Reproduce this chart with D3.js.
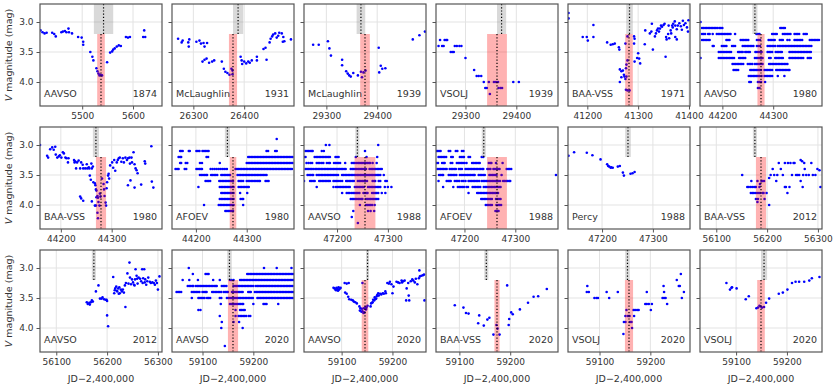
<!DOCTYPE html>
<html>
<head>
<meta charset="utf-8">
<script src="https://cdn.jsdelivr.net/npm/d3@7"></script>
<style>
  body { margin: 0; background: #fff; }
  svg text { font-family: "DejaVu Sans", sans-serif; }
</style>
</head>
<body>
<div id="chart"></div>
<script>
// panel labels, row-major (3 rows x 6 columns)
var sources = ["AAVSO", "McLaughlin", "McLaughlin", "VSOLJ", "BAA-VSS", "AAVSO",
               "BAA-VSS", "AFOEV", "AAVSO", "AFOEV", "Percy", "BAA-VSS",
               "AAVSO", "AAVSO", "AAVSO", "BAA-VSS", "VSOLJ", "VSOLJ"];
var years = ["1874", "1931", "1939", "1939", "1971", "1980",
             "1980", "1980", "1988", "1988", "1988", "2012",
             "2012", "2020", "2020", "2020", "2020", "2020"];
// centre of each x window (JD-2,400,000), window is +-120 d
var axisCentre = [5537, 26378, 29376, 29362, 41282, 44276,
                  44279, 44273, 47255, 47264, 47253, 56188,
                  56188, 59160, 59146, 59174, 59158, 59149];
// predicted mid-eclipse (grey) and its half width in days
var predicted = [5542, 26388, 29368, 29371, 41283, 44264,
                 44269, 44262, 47240, 47238, 47251, 56176,
                 56174, 59153, 59151, 59153, 59155, 59155];
var predictedHalf = [19, 10, 8.5, 9, 6.5, 5,
                     6, 5, 4, 4, 5.5, 4,
                     4, 4.5, 3, 4, 4.5, 6];
// observed minimum (red) and its half width in days
var minimum = [5537, 26378, 29376, 29362, 41282, 44276,
               44279, 44273, 47255, 47264, null, 56188,
               null, 59160, 59146, 59174, 59158, 59149];
var minimumHalf = [7.5, 8, 9.5, 19.5, 7.5, 7,
                   10, 6.5, 20.5, 19.5, 0, 10,
                   0, 10, 6.5, 5, 8, 7.5];
var yTicks = [3.0, 3.5, 4.0];

// light curves: [JD-2,400,000, V mag]
var aavso1874 = [[5418,3.14],[5422,3.17],[5426,3.19],[5430,3.18],[5441,3.18],[5445,3.2],[5448,3.24],[5459,3.17],[5462,3.16],[5466,3.15],[5469,3.17],[5473,3.11],[5474,3.17],[5480,3.19],[5492,3.25],[5499,3.26],[5502,3.33],[5502,3.38],[5516,3.5],[5520,3.58],[5522,3.64],[5528,3.77],[5530,3.82],[5532,3.86],[5534,3.89],[5536,3.88],[5539,3.89],[5549,3.67],[5555,3.51],[5559,3.49],[5561,3.46],[5564,3.44],[5568,3.41],[5572,3.39],[5576,3.4],[5586,3.25],[5590,3.26],[5594,3.25],[5620,3.25],[5624,3.25],[5622,3.14]];

var mclaughlin1931 = [[26270,3.28],[26277,3.34],[26279,3.31],[26290,3.34],[26292,3.29],[26291,3.41],[26306,3.33],[26312,3.31],[26315,3.36],[26320,3.35],[26322,3.41],[26327,3.35],[26318,3.66],[26322,3.63],[26326,3.61],[26331,3.68],[26337,3.66],[26341,3.64],[26356,3.66],[26360,3.78],[26363,3.83],[26367,3.85],[26371,3.88],[26375,3.78],[26377,3.81],[26377,3.87],[26393,3.58],[26395,3.64],[26396,3.7],[26400,3.66],[26404,3.69],[26408,3.66],[26411,3.68],[26415,3.64],[26425,3.58],[26425,3.64],[26438,3.45],[26442,3.43],[26444,3.63],[26450,3.34],[26452,3.28],[26455,3.24],[26457,3.21],[26461,3.19],[26464,3.26],[26467,3.23],[26469,3.18],[26474,3.19],[26477,3.25],[26476,3.33],[26479,3.32],[26492,3.29]];

var mclaughlin1939 = [[29274,3.38],[29285,3.38],[29303,3.32],[29306,3.44],[29309,3.56],[29331,3.63],[29331,3.72],[29339,3.82],[29342,3.86],[29345,3.89],[29348,3.91],[29353,3.85],[29362,3.89],[29368,3.83],[29370,3.92],[29373,3.84],[29377,3.81],[29403,3.43],[29404,3.84],[29407,3.73],[29410,3.78],[29416,3.77],[29470,3.29],[29483,3.22],[29494,3.16]];

var vsolj1939 = [[29247,3.4],[29250,3.3],[29254,3.4],[29257,3.4],[29259,3.3],[29262,3.3],[29264,3.3],[29271,3.5],[29274,3.5],[29277,3.5],[29279,3.4],[29283,3.4],[29288,3.4],[29292,3.4],[29300,3.6],[29317,3.8],[29322,3.9],[29326,3.9],[29331,3.9],[29336,4.0],[29339,4.1],[29342,4.1],[29346,4.0],[29348,4.2],[29356,4.0],[29360,4.0],[29364,4.0],[29365,4.1],[29369,4.1],[29372,4.1],[29394,4.0],[29405,4.0]];

var baavss1971 = [[41163,2.85],[41163,2.94],[41191,3.25],[41199,3.25],[41201,3.31],[41212,3.25],[41212,3.05],[41239,3.34],[41246,3.38],[41250,3.37],[41254,3.36],[41262,3.42],[41263,3.46],[41264,3.79],[41267,3.82],[41270,3.81],[41264,4.0],[41267,3.92],[41272,3.88],[41273,3.91],[41275,3.95],[41276,3.77],[41277,3.71],[41279,3.64],[41277,3.91],[41276,4.13],[41279,4.14],[41283,4.14],[41275,3.36],[41279,3.24],[41292,3.24],[41293,3.28],[41292,3.36],[41293,3.66],[41298,3.6],[41300,3.52],[41302,3.61],[41304,3.69],[41313,3.37],[41314,3.14],[41326,3.16],[41329,3.46],[41323,3.19],[41327,3.03],[41333,3.24],[41335,3.19],[41337,3.14],[41339,3.11],[41341,3.16],[41343,3.11],[41345,3.06],[41347,3.08],[41350,3.05],[41352,3.03],[41355,3.25],[41356,3.29],[41359,3.2],[41360,3.06],[41361,3.27],[41364,3.14],[41365,3.19],[41367,3.06],[41368,3.09],[41369,3.03],[41372,2.99],[41373,3.06],[41376,3.12],[41373,3.25],[41376,3.29],[41354,3.58],[41378,3.06],[41381,3.02],[41384,3.07],[41386,3.13],[41388,2.98],[41390,3.05],[41393,3.02],[41396,3.09],[41398,3.16],[41399,2.97]];

// visual estimates reported in 0.1 mag steps: [mag, [JD...]]
var aavso1980 = [
  [3.0, [44157]],
  [3.1, [44160,44163,44166,44169,44172,44175,44178,44181,44184,44187,44190,44194,44197,44200,44314,44317,44320,44323]],
  [3.2, [44160,44163,44166,44172,44175,44181,44189,44192,44195,44198,44201,44204,44207,44210,44213,44216,44225,44267,44270,44273,44298,44301,44304,44307,44319,44322,44325,44328,44331,44334,44342,44345,44348,44351,44360,44363,44366]],
  [3.3, [44160,44163,44166,44169,44172,44175,44208,44211,44214,44236,44239,44242,44245,44248,44251,44268,44271,44274,44291,44294,44297,44300,44303,44313,44316,44319,44328,44332,44342,44345,44348,44351,44354,44357,44372,44375,44378,44381,44384,44387,44390]],
  [3.4, [44181,44183,44199,44202,44205,44208,44219,44222,44225,44240,44243,44246,44249,44252,44255,44258,44261,44268,44271,44274,44289,44292,44295,44298,44301,44304,44309,44312,44315,44318,44321,44324,44327,44330,44333,44336,44339,44342,44345,44348,44351,44354,44357,44360,44363,44366,44369,44372,44375]],
  [3.5, [44193,44196,44199,44202,44205,44208,44211,44214,44217,44231,44234,44237,44240,44245,44248,44251,44254,44265,44268,44271,44274,44277,44289,44292,44295,44298,44305,44308,44311,44314,44317,44332,44335,44338,44341,44344,44347,44350,44353,44356,44359,44362,44365,44368,44371,44374]],
  [3.6, [44157,44193,44196,44199,44202,44205,44208,44211,44214,44217,44220,44223,44233,44236,44239,44242,44245,44264,44267,44270,44273,44276,44279,44292,44295,44304,44307,44310,44313,44316,44319,44332,44335,44338,44341,44344,44347,44350,44353,44356,44359,44368,44371,44374]],
  [3.7, [44220,44223,44226,44229,44232,44235,44238,44241,44250,44253,44256,44259,44264,44267,44270,44273,44276,44279,44292,44295,44298,44301,44304,44307,44310,44313,44316,44319,44322,44325,44328]],
  [3.8, [44222,44225,44228,44231,44255,44258,44261,44264,44267,44270,44273,44276,44283,44286,44289,44292,44295,44298,44306,44309,44312,44315,44318,44321,44324,44327,44330,44332]],
  [3.9, [44252,44255,44258,44261,44264,44267,44270,44273,44277,44283,44286,44289,44292,44295,44298,44309,44322]],
  [4.0, [44253,44256,44270,44273,44276,44284]],
  [4.1, [44270,44273]]
];

var baavss1980 = [[44159,3.0],[44173,3.18],[44175,3.21],[44179,3.07],[44183,3.04],[44186,3.08],[44189,3.03],[44190,3.16],[44193,3.21],[44196,3.19],[44198,3.17],[44201,3.21],[44204,3.12],[44206,3.14],[44209,3.21],[44211,3.22],[44214,3.29],[44215,3.22],[44226,3.25],[44227,3.29],[44228,3.27],[44230,3.39],[44232,3.29],[44235,3.26],[44238,3.39],[44240,3.29],[44243,3.33],[44244,3.39],[44248,3.39],[44251,3.32],[44252,3.39],[44255,3.37],[44256,3.39],[44260,3.31],[44261,3.39],[44257,3.51],[44259,3.58],[44263,3.36],[44238,3.86],[44240,3.89],[44244,3.93],[44261,3.94],[44264,3.62],[44267,3.64],[44268,3.67],[44269,3.74],[44270,3.76],[44272,3.85],[44273,3.88],[44274,3.95],[44276,4.01],[44272,4.13],[44273,4.22],[44277,3.81],[44278,3.86],[44267,4.01],[44269,4.01],[44270,3.87],[44281,3.56],[44284,3.65],[44285,3.74],[44286,3.85],[44288,3.96],[44289,4.01],[44290,3.72],[44291,3.62],[44293,3.51],[44294,3.48],[44295,3.56],[44297,3.34],[44301,3.29],[44303,3.38],[44305,3.25],[44307,3.43],[44310,3.29],[44312,3.25],[44314,3.22],[44316,3.21],[44319,3.28],[44322,3.22],[44324,3.29],[44327,3.21],[44330,3.25],[44332,3.22],[44335,3.21],[44336,3.31],[44339,3.21],[44340,3.29],[44343,3.12],[44345,3.32],[44347,3.39],[44349,3.42],[44351,3.47],[44332,3.67],[44337,3.59],[44345,3.71],[44358,3.66],[44365,3.27],[44366,3.31],[44378,3.02],[44379,3.61],[44382,3.71]];

var afoev1980 = [
  [2.9, [44359]],
  [3.1, [44169,44171,44174,44186,44188,44201,44204,44207,44213,44216,44219,44222,44225,44339,44342,44356,44359]],
  [3.2, [44166,44169,44171,44221,44224,44303,44306,44309,44312,44315,44318,44321,44324,44327,44330,44333,44336,44339,44342,44345,44348,44351,44354,44357,44360,44363,44366,44369,44372,44375,44378,44381,44384,44387,44390]],
  [3.3, [44169,44171,44180,44183,44208,44212,44247,44300,44303,44306,44309,44312,44315,44318,44321,44324,44327,44330,44333,44336,44339,44342,44345,44348,44351,44354,44357,44360,44363,44366,44369,44372,44375,44378,44381,44384,44387,44390]],
  [3.4, [44160,44163,44166,44178,44181,44201,44204,44207,44210,44212,44229,44233,44237,44241,44245,44249,44253,44257,44261,44278,44281,44284,44287,44290,44293,44296,44299,44302,44305,44308,44311,44314,44317,44320,44323,44326,44329,44332,44335,44338,44341,44344,44347,44350,44353,44356,44359,44362,44365,44368,44371,44374,44377,44380,44383,44386,44389]],
  [3.5, [44208,44211,44214,44217,44220,44222,44230,44233,44236,44239,44242,44250,44253,44256,44259,44262,44265,44267,44282,44285,44288,44291,44294,44297,44300,44303,44306,44309,44312,44315,44318,44321,44324,44327,44330,44333,44336,44339]],
  [3.6, [44219,44222,44225,44228,44246,44249,44252,44255,44258,44261,44264,44267,44270,44273,44284,44287,44290,44293,44300,44303,44306,44309,44312,44315,44318,44321,44324,44326,44337,44340,44343]],
  [3.7, [44205,44247,44250,44253,44256,44259,44262,44265,44268,44271,44274,44284,44287,44290,44293,44296,44299,44302,44304]],
  [3.8, [44250,44253,44256,44259,44262,44265,44268,44271,44274,44287,44301]],
  [3.9, [44247,44250,44253,44256,44259,44262,44265,44268,44271,44274,44288,44291,44293]],
  [4.0, [44216,44245,44248,44251,44254,44257,44260,44263,44266,44269,44272,44274,44293]],
  [4.1, [44258,44261,44264,44267,44270,44273]]
];

var aavso1988 = [
  [3.0, [47178,47185,47281]],
  [3.1, [47138,47141,47144,47147,47150,47152,47170,47174,47255]],
  [3.2, [47135,47138,47156,47159,47162,47165,47168,47171,47174,47177,47180,47183,47186,47197,47200,47203,47237,47258,47279]],
  [3.3, [47140,47144,47148,47151,47160,47163,47166,47170,47173,47180,47184,47186,47194,47197,47200,47203,47206,47216,47229,47232,47235,47239,47242,47245,47248,47251,47254,47257,47260,47263,47265,47270,47278]],
  [3.4, [47138,47141,47144,47147,47150,47153,47157,47160,47163,47166,47169,47172,47175,47178,47181,47184,47187,47190,47193,47196,47199,47202,47205,47208,47211,47214,47217,47227,47230,47233,47236,47239,47242,47245,47248,47251,47254,47257,47264,47267,47270,47273,47276,47279,47282,47285,47288]],
  [3.5, [47142,47145,47148,47151,47153,47160,47163,47166,47169,47172,47175,47178,47181,47184,47187,47190,47193,47196,47199,47202,47210,47213,47216,47219,47222,47225,47228,47231,47234,47237,47240,47243,47246,47249,47252,47255,47258,47261,47264,47267,47270,47273,47276,47279,47282,47285,47292]],
  [3.6, [47135,47147,47150,47153,47156,47165,47168,47171,47174,47177,47180,47183,47186,47193,47196,47199,47202,47206,47210,47218,47221,47224,47227,47230,47233,47241,47244,47247,47250,47253,47256,47259,47270,47273,47275,47282,47285,47295,47298]],
  [3.7, [47160,47193,47198,47201,47204,47207,47210,47213,47216,47219,47222,47225,47235,47238,47241,47244,47247,47250,47253,47261,47264,47267,47270,47273,47276,47279,47282,47285,47294,47300,47307]],
  [3.8, [47210,47219,47222,47225,47229,47232,47235,47238,47241,47244,47252,47255,47258,47260,47269,47272,47275,47278,47281,47288,47295]],
  [3.9, [47227,47230,47233,47236,47239,47242,47245,47248,47250,47257,47260,47263,47266,47269,47272,47275,47278,47281]],
  [4.0, [47245,47257,47260,47263,47266,47269,47274]],
  [4.1, [47232,47261,47266,47273]],
  [4.2, [47229]],
  [4.3, [47241]]
];

var afoev1988 = [
  [3.1, [47144,47147,47150,47153,47169,47172,47183,47186,47195,47198]],
  [3.2, [47149,47152,47155,47158,47161,47164,47174,47177,47191,47194,47197,47199,47208,47211,47234,47237]],
  [3.3, [47145,47148,47156,47159,47161,47173,47176,47185,47188,47191,47194,47197,47200,47204,47215,47218,47221,47224,47227,47230,47248,47251,47253,47262,47275]],
  [3.4, [47147,47150,47153,47156,47159,47162,47165,47171,47174,47177,47180,47183,47189,47192,47195,47202,47205,47208,47211,47214,47217,47220,47223,47226,47229,47232,47235,47237,47245,47248,47251,47257,47260,47263,47266,47269,47283,47286,47289,47292]],
  [3.5, [47150,47153,47156,47158,47169,47172,47175,47178,47181,47184,47191,47194,47197,47200,47203,47206,47209,47212,47215,47218,47220,47228,47231,47234,47237,47240,47249,47252,47255,47258,47261,47263,47273,47380]],
  [3.6, [47149,47165,47168,47171,47173,47181,47184,47187,47190,47195,47198,47202,47208,47211,47214,47217,47220,47223,47226,47229,47234,47237,47240,47243,47246,47249,47252,47255,47258,47261,47264,47267,47270,47276,47279,47282,47285,47288,47290]],
  [3.7, [47158,47178,47187,47190,47193,47196,47199,47204,47207,47216,47219,47222,47225,47228,47231,47238,47241,47244,47247,47250,47253,47256,47259,47262,47265,47268,47271]],
  [3.8, [47208,47225,47228,47231,47234,47237,47240,47243,47246,47249,47252,47255,47258,47261,47264,47266]],
  [3.9, [47233,47236,47239,47242,47245,47248,47251,47254,47262,47265,47268,47271]],
  [4.0, [47242,47245,47248,47251,47254,47263,47266,47269,47272]],
  [4.1, [47261,47264,47267]]
];

var percy1988 = [[47134,3.18],[47145,3.12],[47170,3.13],[47181,3.17],[47197,3.24],[47210,3.32],[47212,3.35],[47214,3.36],[47217,3.38],[47218,3.37],[47221,3.38],[47231,3.36],[47235,3.35],[47241,3.46],[47243,3.51],[47256,3.48],[47260,3.47],[47264,3.45]];

var baavss2012 = [[56151,3.5],[56161,3.7],[56164,3.7],[56168,3.7],[56169,3.6],[56172,3.7],[56176,3.7],[56178,3.7],[56168,3.8],[56171,3.8],[56174,3.8],[56178,3.8],[56182,3.8],[56186,3.8],[56191,3.8],[56193,3.8],[56178,3.9],[56181,3.95],[56182,3.9],[56181,3.6],[56185,3.7],[56186,3.65],[56189,3.6],[56191,3.6],[56194,3.6],[56195,3.9],[56204,4.0],[56199,3.8],[56204,3.55],[56207,3.5],[56211,3.4],[56214,3.5],[56218,3.6],[56220,3.5],[56223,3.3],[56227,3.4],[56231,3.5],[56235,3.7],[56235,3.3],[56237,3.7],[56240,3.8],[56241,3.3],[56244,3.7],[56246,3.3],[56249,3.5],[56252,3.3],[56254,3.3],[56257,3.5],[56260,3.5],[56263,3.5],[56266,3.25],[56266,3.6],[56269,3.27],[56270,3.7],[56271,3.5],[56273,3.3],[56274,3.4],[56277,3.5],[56282,3.5],[56287,3.3],[56290,3.5],[56295,3.5],[56299,3.4],[56303,3.42],[56305,3.7]];

var aavso2012 = [[56160,3.57],[56162,3.6],[56165,3.58],[56166,3.61],[56168,3.57],[56170,3.54],[56172,3.56],[56178,3.39],[56183,3.29],[56186,3.51],[56189,3.51],[56191,3.49],[56194,3.52],[56197,3.53],[56199,3.53],[56200,3.55],[56200,3.79],[56202,3.97],[56212,3.15],[56214,3.42],[56215,3.37],[56216,3.34],[56218,3.31],[56219,3.38],[56220,3.39],[56222,3.34],[56223,3.43],[56224,3.32],[56225,3.42],[56227,3.36],[56229,3.39],[56231,3.36],[56233,3.41],[56235,3.29],[56236,3.65],[56237,3.25],[56240,3.09],[56242,3.26],[56244,2.91],[56245,3.16],[56247,3.27],[56249,3.19],[56251,3.24],[56253,3.28],[56254,3.29],[56255,3.19],[56256,3.02],[56258,3.13],[56259,3.18],[56260,3.26],[56262,3.16],[56265,3.18],[56267,3.22],[56269,3.02],[56270,3.25],[56271,3.17],[56273,3.02],[56274,3.24],[56275,3.19],[56277,3.28],[56279,3.22],[56281,3.16],[56284,3.23],[56286,3.25],[56289,3.24],[56292,3.25],[56294,3.28],[56296,3.21],[56298,3.25],[56300,3.36],[56303,3.14]];

var aavso2020a = [
  [3.0, [59073,59221,59246,59275]],
  [3.1, [59081,59106,59109,59112,59188,59191,59194,59197,59200,59203,59206,59209,59212,59215,59218,59221,59224,59227,59230,59233,59236,59239,59242,59245,59248,59251,59254,59257,59260,59263,59266,59269,59272,59275,59278]],
  [3.2, [59061,59074,59091,59121,59134,59154,59157,59161,59174,59177,59180,59183,59186,59189,59192,59195,59198,59201,59204,59207,59210,59213,59216,59219,59222,59225,59228,59231,59234,59237,59240,59243,59246,59249,59252,59255,59258,59261,59264,59267,59270,59273,59276,59279]],
  [3.3, [59071,59074,59077,59080,59082,59087,59090,59093,59096,59099,59102,59105,59108,59111,59114,59117,59120,59123,59126,59128,59138,59141,59144,59147,59161,59164,59167,59170,59173,59176,59179,59182,59185,59188,59191,59194,59197,59200,59205,59208,59211,59214,59217,59220,59223,59226,59229,59232,59235,59238,59241,59244,59247,59250,59253,59256,59259,59262,59265,59268,59271,59274,59277]],
  [3.4, [59049,59052,59055,59058,59079,59082,59085,59088,59091,59094,59100,59103,59106,59108,59119,59122,59125,59128,59131,59134,59137,59142,59145,59148,59150,59158,59161,59164,59167,59170,59173,59176,59179,59190,59193,59195,59203,59206,59209,59212,59215,59218,59221,59224,59227,59230,59233,59236,59239,59242,59245,59248,59251,59254,59257,59260,59263,59266,59269,59272,59275,59278]],
  [3.5, [59079,59092,59095,59098,59101,59104,59109,59112,59115,59134,59137,59148,59151,59154,59157,59160,59163,59166,59169,59172,59175,59178,59181,59184,59187,59190,59193,59196,59199,59208,59211,59214,59217,59220,59223,59226,59229,59232,59235,59238,59241,59244,59247,59250,59253,59256,59259,59262,59265,59268,59271,59274,59277]],
  [3.6, [59136,59154,59157,59160,59163,59166,59169,59172,59175,59178,59180,59200,59220,59223,59226,59249]],
  [3.7, [59092,59096,59165,59174,59177,59180,59183]],
  [3.8, [59134,59165,59171,59174,59177,59180,59183,59186,59191,59194]],
  [3.9, [59138,59161,59172]],
  [4.0, [59137,59179]],
  [4.3, [59144]]
];

var aavso2020b = [[59084,3.33],[59086,3.34],[59088,3.36],[59089,3.37],[59090,3.33],[59092,3.35],[59093,3.38],[59094,3.32],[59095,3.36],[59097,3.34],[59098,3.33],[59106,3.25],[59110,3.26],[59114,3.25],[59107,3.41],[59110,3.43],[59113,3.48],[59115,3.52],[59119,3.53],[59122,3.54],[59124,3.56],[59127,3.57],[59130,3.59],[59135,3.64],[59136,3.71],[59137,3.67],[59139,3.73],[59140,3.68],[59141,3.72],[59143,3.75],[59144,3.67],[59145,3.74],[59147,3.65],[59148,3.69],[59149,3.66],[59151,3.63],[59141,3.25],[59157,3.64],[59158,3.59],[59160,3.58],[59161,3.57],[59162,3.53],[59164,3.54],[59165,3.49],[59166,3.52],[59168,3.51],[59169,3.47],[59170,3.45],[59172,3.42],[59173,3.46],[59176,3.43],[59178,3.44],[59181,3.42],[59183,3.43],[59186,3.39],[59187,3.42],[59190,3.25],[59193,3.26],[59195,3.23],[59198,3.27],[59200,3.42],[59202,3.31],[59208,3.23],[59211,3.24],[59214,3.25],[59218,3.21],[59219,3.24],[59221,3.22],[59224,3.21],[59227,3.54],[59228,3.34],[59231,3.25],[59232,3.46],[59233,3.54],[59236,3.22],[59239,3.19],[59241,3.21],[59244,3.24],[59246,3.18],[59249,3.27],[59252,3.17],[59253,3.04],[59254,3.14],[59257,3.13],[59260,3.12],[59262,3.11],[59263,3.54]];

var baavss2020 = [[59091,3.62],[59108,3.66],[59113,3.75],[59118,3.76],[59139,3.79],[59137,3.92],[59148,3.96],[59155,3.86],[59159,3.83],[59167,4.11],[59173,3.95],[59175,4.01],[59179,4.11],[59194,3.29],[59197,3.95],[59198,3.85],[59202,3.74],[59205,3.77],[59219,3.69],[59235,3.58],[59246,3.48],[59255,3.47],[59272,3.35]];

var vsolj2020a = [[59076,3.3],[59075,3.4],[59079,3.4],[59090,3.5],[59094,3.5],[59097,3.5],[59114,3.4],[59119,3.5],[59136,3.4],[59147,4.1],[59148,3.9],[59151,3.9],[59151,3.8],[59153,3.7],[59156,3.8],[59159,3.8],[59160,3.9],[59163,3.9],[59164,4.0],[59168,3.8],[59167,3.7],[59170,3.7],[59174,3.7],[59177,3.7],[59190,3.6],[59193,3.6],[59197,3.6],[59201,3.7],[59203,3.6],[59193,3.4],[59226,3.3],[59224,3.5],[59227,3.5],[59230,3.5],[59227,3.4],[59233,3.6],[59252,3.2],[59256,3.3],[59258,3.3],[59260,3.1],[59262,3.5],[59266,3.4]];

var vsolj2020b = [[59081,3.25],[59088,3.36],[59091,3.33],[59092,3.32],[59101,3.34],[59119,3.52],[59125,3.47],[59140,3.67],[59143,3.66],[59146,3.63],[59148,3.64],[59151,3.66],[59155,3.65],[59159,3.58],[59165,3.51],[59184,3.43],[59192,3.41],[59201,3.36],[59210,3.25],[59217,3.23],[59224,3.23],[59234,3.23],[59244,3.21],[59249,3.17],[59264,3.15]];

function fromRows(rows) {
  return rows.reduce(function(acc, r) {
    return acc.concat(r[1].map(function(t) { return [t, r[0]]; }));
  }, []);
}

var curves = [aavso1874, mclaughlin1931, mclaughlin1939, vsolj1939, baavss1971, fromRows(aavso1980),
              baavss1980, fromRows(afoev1980), fromRows(aavso1988), fromRows(afoev1988), percy1988, baavss2012,
              aavso2012, fromRows(aavso2020a), aavso2020b, baavss2020, vsolj2020a, vsolj2020b];

// layout
var w = 836, h = 386,
    pw = 122, ph = 102,
    margin = {left: 40, top: 4},
    stepX = 132, stepY = 123,
    halfSpan = 120,
    splitMag = 3.2;

var svg = d3.select("#chart").append("svg")
            .attr("width", w)
            .attr("height", h)
            .style("background", "#fff");

var y = d3.scaleLinear().domain([2.7, 4.4]).range([0, ph]);

curves.forEach(function(data, i) {
    var col = i % 6, row = Math.floor(i / 6);
    var x = d3.scaleLinear()
              .domain([axisCentre[i] - halfSpan, axisCentre[i] + halfSpan])
              .range([0, pw]);
    var xTicks = d3.range(Math.ceil(x.domain()[0] / 100) * 100, x.domain()[1] + 0.01, 100);

    var g = svg.append("g")
               .attr("transform", "translate(" + (margin.left + col * stepX) + "," + (margin.top + row * stepY) + ")");

    g.append("clipPath").attr("id", "clip" + i)
     .append("rect").attr("width", pw).attr("height", ph);

    // grid
    g.selectAll("line.gx").data(xTicks).enter().append("line")
     .attr("x1", function(d) { return x(d); }).attr("x2", function(d) { return x(d); })
     .attr("y1", 0).attr("y2", ph)
     .attr("stroke", "#e3e3e3").attr("stroke-width", 1);
    g.selectAll("line.gy").data(yTicks).enter().append("line")
     .attr("x1", 0).attr("x2", pw)
     .attr("y1", function(d) { return y(d); }).attr("y2", function(d) { return y(d); })
     .attr("stroke", "#e3e3e3").attr("stroke-width", 1);

    var plot = g.append("g").attr("clip-path", "url(#clip" + i + ")");

    plot.selectAll("circle").data(data).enter().append("circle")
        .attr("cx", function(d) { return x(d[0]); })
        .attr("cy", function(d) { return y(d[1]); })
        .attr("r", 1.3)
        .attr("fill", "#0000ff");

    // predicted time (grey, upper part)
    plot.append("rect")
        .attr("x", x(predicted[i] - predictedHalf[i]))
        .attr("width", x(predicted[i] + predictedHalf[i]) - x(predicted[i] - predictedHalf[i]))
        .attr("y", 0).attr("height", y(splitMag))
        .attr("fill", "#808080").attr("fill-opacity", 0.3);
    plot.append("line")
        .attr("x1", x(predicted[i])).attr("x2", x(predicted[i]))
        .attr("y1", 0).attr("y2", y(splitMag))
        .attr("stroke", "#000").attr("stroke-width", 1.2).attr("stroke-dasharray", "1.2,2");

    // observed minimum (red, lower part)
    if (minimum[i] !== null) {
        plot.append("rect")
            .attr("x", x(minimum[i] - minimumHalf[i]))
            .attr("width", x(minimum[i] + minimumHalf[i]) - x(minimum[i] - minimumHalf[i]))
            .attr("y", y(splitMag)).attr("height", ph - y(splitMag))
            .attr("fill", "#ff0000").attr("fill-opacity", 0.3);
        plot.append("line")
            .attr("x1", x(minimum[i])).attr("x2", x(minimum[i]))
            .attr("y1", y(splitMag)).attr("y2", ph)
            .attr("stroke", "#000").attr("stroke-width", 1.2).attr("stroke-dasharray", "1.2,2");
    }

    // axes
    var xAxis = g.append("g").attr("transform", "translate(0," + ph + ")")
                 .call(d3.axisBottom(x).tickValues(xTicks).tickFormat(d3.format("d")).tickSize(3.5).tickPadding(3));
    var yAxis = g.append("g")
                 .call(d3.axisLeft(y).tickValues(yTicks)
                         .tickFormat(col === 0 ? d3.format(".1f") : function() { return ""; })
                         .tickSize(3.5).tickPadding(3));
    [xAxis, yAxis].forEach(function(a) {
        a.select(".domain").remove();
        a.selectAll(".tick line").attr("stroke", "#555");
        a.selectAll(".tick text").attr("fill", "#333")
         .attr("font-size", "9px").attr("font-family", "DejaVu Sans, sans-serif");
    });

    // frame
    g.append("rect").attr("width", pw).attr("height", ph)
     .attr("fill", "none").attr("stroke", "#555").attr("stroke-width", 1.2);

    // labels
    g.append("text").attr("x", 4).attr("y", ph - 9)
     .attr("font-size", "9.5px").attr("fill", "#333").text(sources[i]);
    g.append("text").attr("x", pw - 5).attr("y", ph - 9)
     .attr("text-anchor", "end")
     .attr("font-size", "9.5px").attr("fill", "#333").text(years[i]);

    if (col === 0) {
        var yl = svg.append("text")
            .attr("transform", "translate(12," + (margin.top + row * stepY + ph / 2) + ") rotate(-90)")
            .attr("text-anchor", "middle")
            .attr("font-size", "9.5px").attr("fill", "#333");
        yl.append("tspan").attr("font-style", "italic").text("V");
        yl.append("tspan").text(" magnitude (mag)");
    }
    if (row === 2) {
        svg.append("text")
           .attr("x", margin.left + col * stepX + pw / 2)
           .attr("y", 382)
           .attr("text-anchor", "middle")
           .attr("font-size", "9.5px").attr("fill", "#333")
           .text("JD\u22122,400,000");
    }
});
</script>
</body>
</html>
